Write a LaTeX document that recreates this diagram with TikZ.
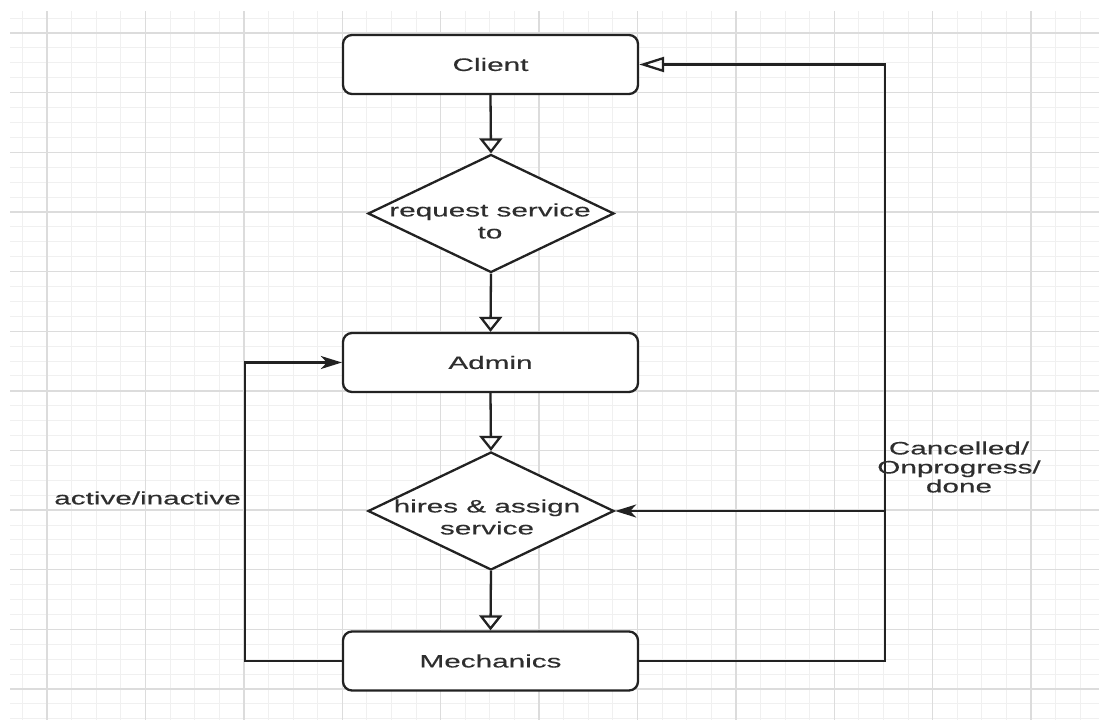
\documentclass[tikz,border=0pt]{standalone}
\usepackage{fontspec}
\setmainfont{Liberation Sans}[FakeStretch=1.65, FakeBold=0.3]
\usetikzlibrary{shapes.geometric,arrows.meta}
\definecolor{ink}{HTML}{222222}
\definecolor{txt}{HTML}{2E2E2E}
\definecolor{gridmajor}{HTML}{DCDCDC}
\definecolor{gridminor}{HTML}{F0F0F0}
\begin{document}
\begin{tikzpicture}[x=1pt,y=-1pt,
  every node/.style={font=\fontsize{18}{22}\selectfont, text=txt},
  procbox/.style={draw=ink, line width=2.3pt, rounded corners=9pt, fill=white,
    minimum width=295pt, minimum height=59pt, inner sep=0pt},
  decision/.style={diamond, draw=ink, line width=2.3pt, fill=white,
    minimum width=246pt, minimum height=118pt, inner sep=0pt},
  flow/.style={draw=ink, line width=2.3pt},
  opendown/.style={-{Triangle[open, length=15pt, width=23pt]}},
  openleft/.style={-{Triangle[open, length=25pt, width=15pt]}},
  solidtip/.style={-{Stealth[length=21pt, width=13pt, inset=6pt]}},
  lbl/.style={inner sep=0pt, align=center}]
\useasboundingbox (0,0) rectangle (1099,720);
\fill[white] (0,0) rectangle (1099,720);

% background grid
\begin{scope}
  \clip (10,11) rectangle (1099,720);
  \foreach \i in {-1,...,42}
    \draw[gridminor, line width=1pt] ({47+24.6*\i},11) -- ({47+24.6*\i},720);
  \foreach \i in {-1,...,46}
    \draw[gridminor, line width=1pt] (10,{33+14.91*\i}) -- (1099,{33+14.91*\i});
  \foreach \i in {0,...,10}
    \draw[gridmajor, line width=1.4pt] ({47+98.4*\i},11) -- ({47+98.4*\i},720);
  \foreach \i in {0,...,11}
    \draw[gridmajor, line width=1.4pt] (10,{33+59.64*\i}) -- (1099,{33+59.64*\i});
\end{scope}

% shapes
\node[procbox] (client) at (490.5,64.5) {Client};
\node[decision] (d1) at (491,213.5) {};
\node[lbl] (d1txt) at (490,221) {request service\\to};
\node[procbox] (admin) at (490.5,362.5) {Admin};
\node[decision] (d2) at (491,511) {};
\node[lbl] (d2txt) at (487,517) {hires \& assign\\service};
\node[procbox] (mech) at (490.5,661) {Mechanics};

% loop columns
\coordinate (lx) at (245,0);
\coordinate (rx) at (885,0);

% connectors
\draw[flow, opendown] (client.south) -- (d1.north);
\draw[flow, opendown] (d1.south) -- (admin.north);
\draw[flow, opendown] (admin.south) -- (d2.north);
\draw[flow, opendown] (d2.south) -- (mech.north);
\draw[flow, solidtip] (mech.west) -- (mech.west -| lx) |- (admin.west);
\draw[flow, openleft] (mech.east) -- (mech.east -| rx) |- (client.east);
\draw[flow, solidtip] (d2.east -| rx) -- (d2.east);

% labels
\node[lbl, anchor=east] (status) at (241,498) {active/inactive};
\node[lbl, font=\fontsize{18}{19}\selectfont] (progress) at (959,467)
  {Cancelled/\\Onprogress/\\done};
\end{tikzpicture}
\end{document}
